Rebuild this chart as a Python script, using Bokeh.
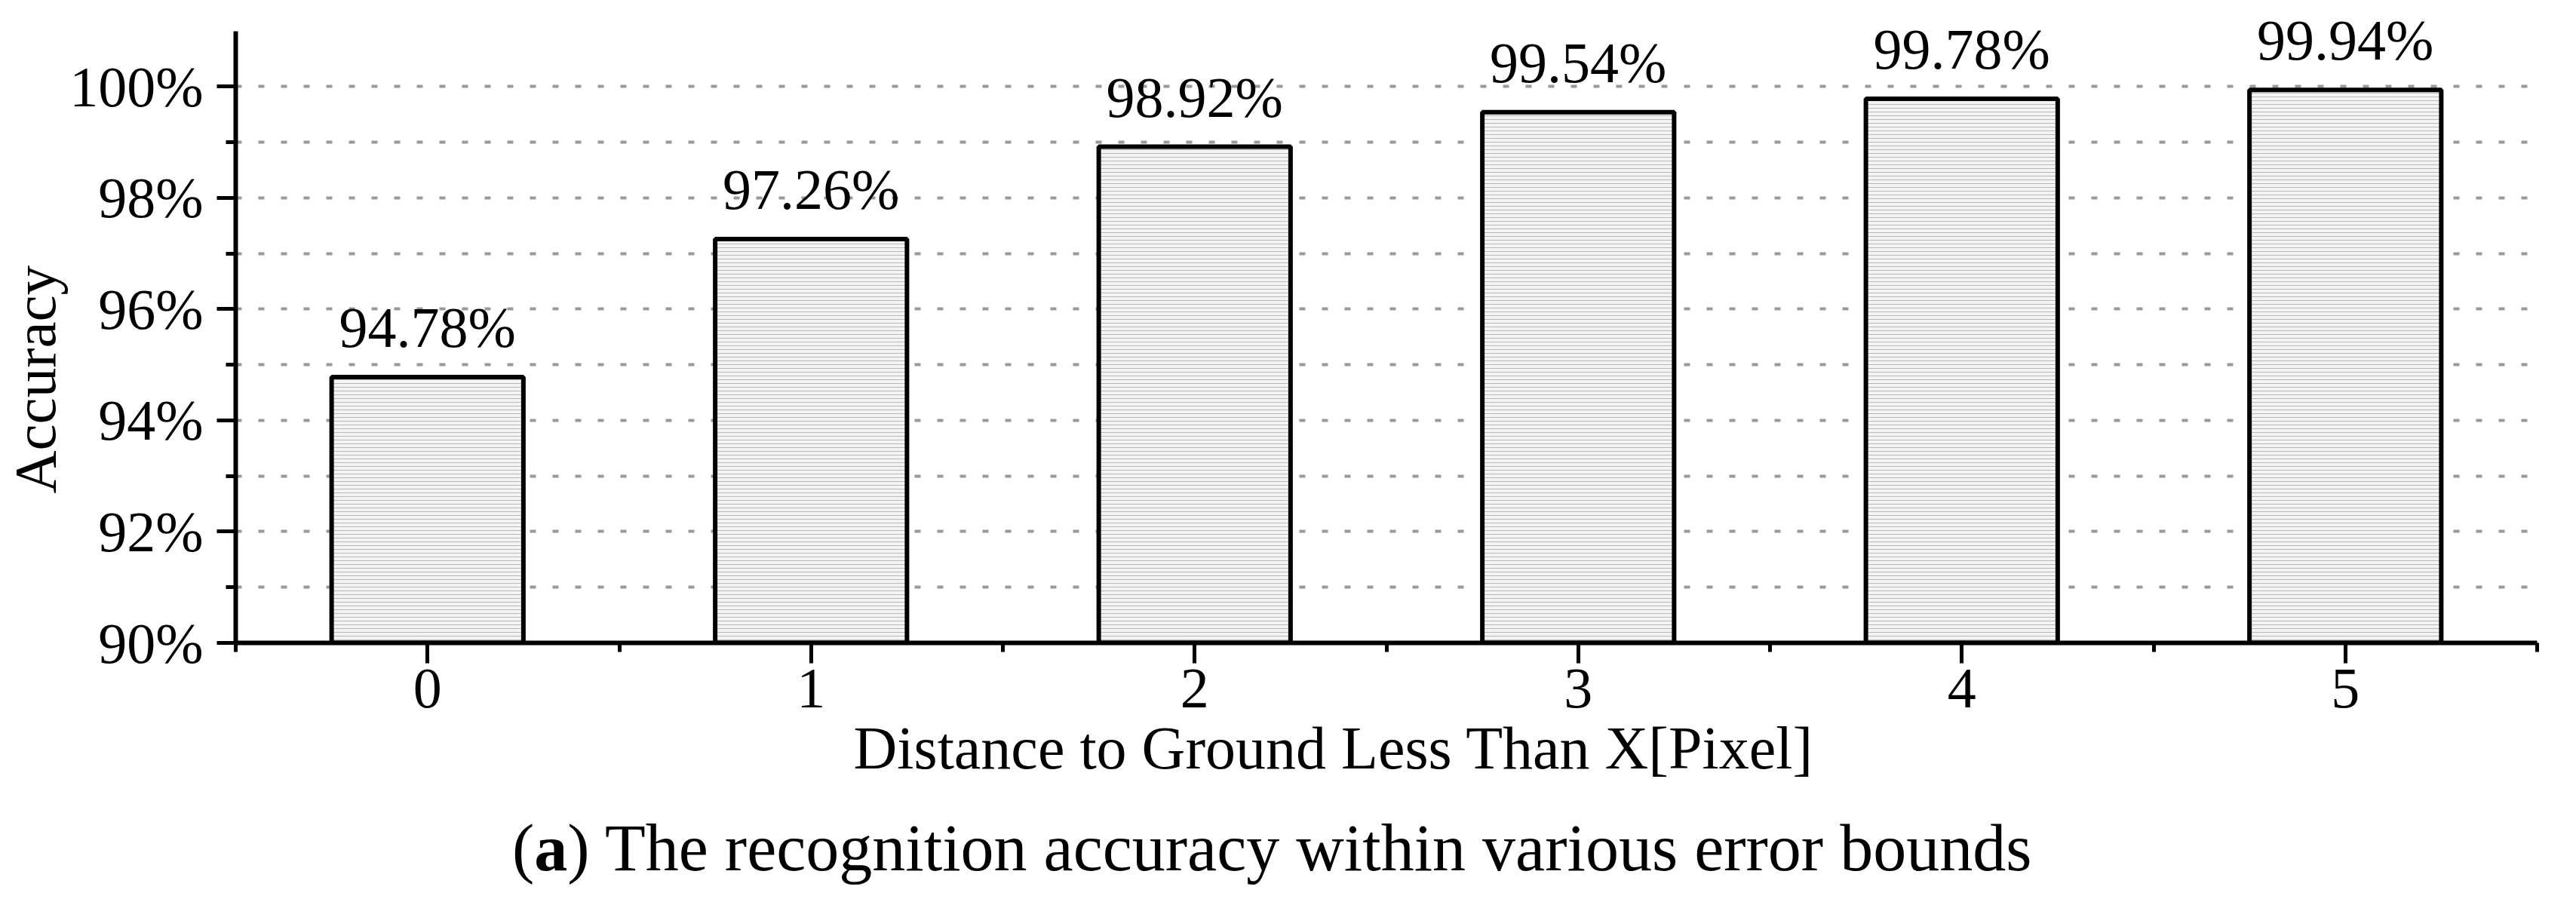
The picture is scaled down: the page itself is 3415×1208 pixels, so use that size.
from bokeh.plotting import figure
from bokeh.layouts import column
from bokeh.models import ColumnDataSource, FixedTicker, Label, Range1d, Title
from bokeh.core.properties import value
from bokeh.embed import file_html
from bokeh.resources import INLINE

# ---- data ----
categories = [0, 1, 2, 3, 4, 5]
accuracy = [94.78, 97.26, 98.92, 99.54, 99.78, 99.94]
value_labels = [f"{v:.2f}%" for v in accuracy]
y_ticks = [90, 92, 94, 96, 98, 100]
y_tick_labels = ["90%", "92%", "94%", "96%", "98%", "100%"]
y_minor = [91, 93, 95, 97, 99]
y_grid = [91, 92, 93, 94, 95, 96, 97, 98, 99, 100]
x_minor = [-0.5, 0.5, 1.5, 2.5, 3.5, 4.5, 5.5]
x_title = "Distance to Ground Less Than X[Pixel]"
y_title = "Accuracy"
caption_rest = ") The recognition accuracy within various error bounds"

FONT = "Liberation Serif"
W = 3399
H1 = 1070
H2 = 1192 - H1
BL, BR = 308, 36          # left / right borders shared by both figures

src = ColumnDataSource(dict(x=categories, top=accuracy, lab=value_labels))

p = figure(width=W, height=H1, output_backend="svg", toolbar_location=None,
           x_range=Range1d(-0.5, 5.5), y_range=Range1d(90, 101.55),
           min_border_left=BL, min_border_right=BR, min_border_top=0,
           min_border_bottom=H1 - 852, title=None)
p.outline_line_color = None
p.background_fill_color = "white"
p.border_fill_color = "white"

# grid
p.xgrid.visible = False
p.ygrid.ticker = FixedTicker(ticks=y_grid)
p.ygrid.grid_line_color = "#9a9a9a"
p.ygrid.grid_line_width = 4
p.ygrid.grid_line_dash = "8 22"

# bars
p.vbar(x="x", top="top", bottom=90, width=0.5, source=src,
       fill_color="#f4f4f4", line_color="black", line_width=6,
       hatch_pattern="horizontal_line", hatch_color="#b8b8b8",
       hatch_scale=5, hatch_weight=1)

# value labels
p.text(x="x", y="top", text="lab", source=src, text_align="center",
       text_baseline="alphabetic", y_offset=-66,
       text_font=value(FONT), text_font_size="76px", text_color="black")

# axes
for ax in (p.xaxis[0], p.yaxis[0]):
    ax.axis_line_width = 6
    ax.axis_line_color = "black"
    ax.major_tick_line_width = 5
    ax.minor_tick_line_width = 5
    ax.major_tick_line_color = "black"
    ax.minor_tick_line_color = "black"
    ax.major_tick_in = 0
    ax.minor_tick_in = 0
    ax.major_label_text_font = FONT
    ax.major_label_text_font_size = "76px"
    ax.major_label_text_color = "black"

p.xaxis.ticker = FixedTicker(ticks=categories, minor_ticks=x_minor)
p.xaxis.major_tick_out = 27
p.xaxis.minor_tick_out = 12
p.xaxis.major_label_standoff = 8
p.xaxis.major_label_overrides = {c: str(c) for c in categories}

p.yaxis.ticker = FixedTicker(ticks=y_ticks, minor_ticks=y_minor)
p.yaxis.bounds = (90, 101)
p.yaxis.major_tick_out = 25
p.yaxis.minor_tick_out = 13
p.yaxis.major_label_standoff = 18
p.yaxis.major_label_overrides = dict(zip(y_ticks, y_tick_labels))

# axis titles (side titles, shifted along the axis like the original)
p.add_layout(Title(text=x_title, align="left", offset=819, standoff=10,
                   text_font=FONT, text_font_size="80px",
                   text_font_style="normal", text_color="black"), "below")
p.add_layout(Title(text=y_title, align="left", offset=198, standoff=0,
                   text_font=FONT, text_font_size="79px",
                   text_font_style="normal", text_color="black"), "left")

# caption figure (data units == pixels)
cap = figure(width=W, height=H2, output_backend="svg", toolbar_location=None,
             x_range=Range1d(BL, W - BR), y_range=Range1d(0, H2),
             min_border_left=BL, min_border_right=BR,
             min_border_top=0, min_border_bottom=0, title=None)
cap.axis.visible = False
cap.grid.visible = False
cap.outline_line_color = None
cap.background_fill_color = "white"
cap.border_fill_color = "white"

cap_size = 88
cap_x, cap_y = 675, 68
cap.add_layout(Label(x=cap_x, y=cap_y, text="(", text_align="left",
                     text_baseline="alphabetic", text_font=FONT,
                     text_font_size=f"{cap_size}px", text_color="black"))
cap.add_layout(Label(x=cap_x, y=cap_y, x_offset=0.333 * cap_size, text="a",
                     text_align="left", text_baseline="alphabetic",
                     text_font=FONT, text_font_style="bold",
                     text_font_size=f"{cap_size}px", text_color="black"))
cap.add_layout(Label(x=cap_x, y=cap_y, x_offset=0.833 * cap_size, text=caption_rest,
                     text_align="left", text_baseline="alphabetic",
                     text_font=FONT, text_font_size=f"{cap_size}px",
                     text_color="black"))

layout = column(p, cap, spacing=0)
open("out.html", "w").write(file_html(layout, INLINE))
